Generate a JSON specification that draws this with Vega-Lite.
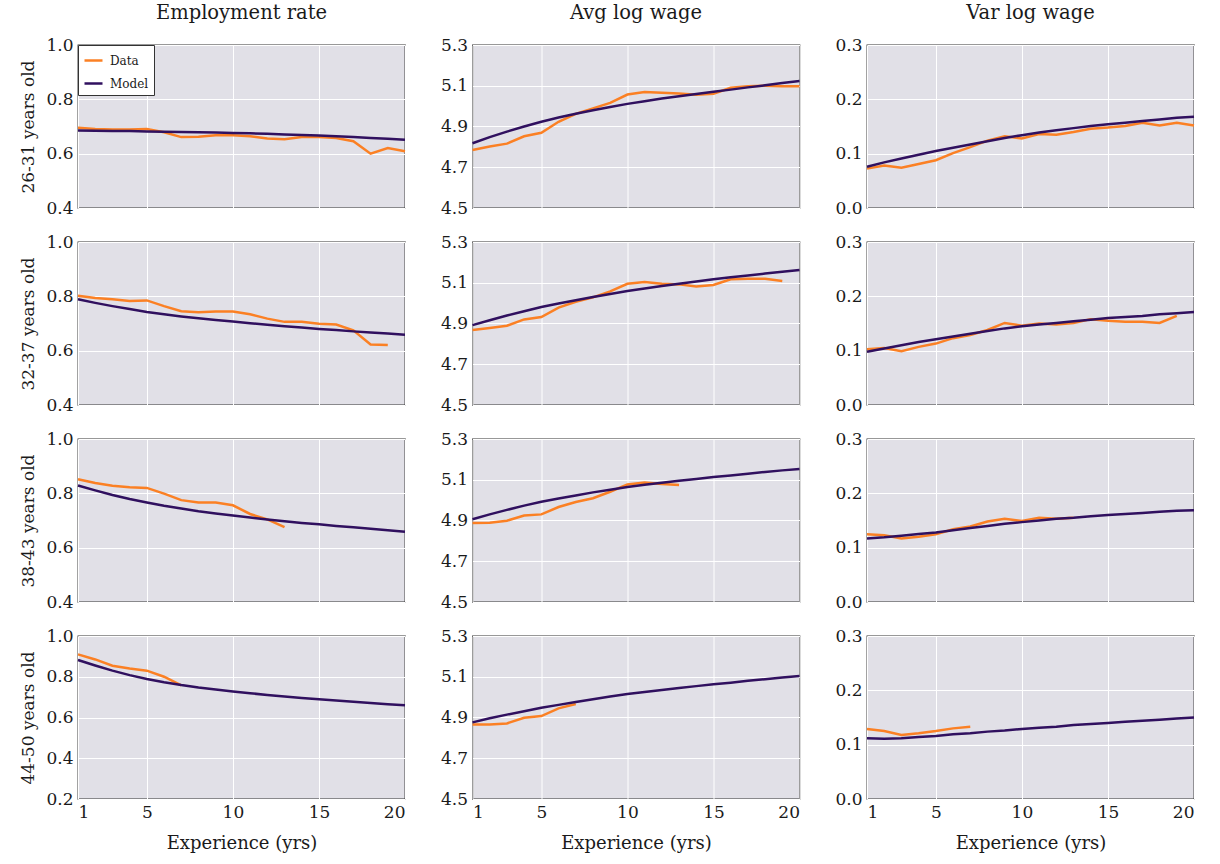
{
  "$schema": "https://vega.github.io/schema/vega-lite/v6.json",
  "background": "white",
  "padding": {"left": 19, "top": 1, "right": 5, "bottom": 5},
  "data": {"values": [
    {"age":"26-31","stat":"emp","exp":1,"Data":0.695,"Model":0.685},
    {"age":"26-31","stat":"emp","exp":2,"Data":0.691,"Model":0.684},
    {"age":"26-31","stat":"emp","exp":3,"Data":0.689,"Model":0.683},
    {"age":"26-31","stat":"emp","exp":4,"Data":0.689,"Model":0.683},
    {"age":"26-31","stat":"emp","exp":5,"Data":0.691,"Model":0.682},
    {"age":"26-31","stat":"emp","exp":6,"Data":0.679,"Model":0.681},
    {"age":"26-31","stat":"emp","exp":7,"Data":0.661,"Model":0.680},
    {"age":"26-31","stat":"emp","exp":8,"Data":0.662,"Model":0.679},
    {"age":"26-31","stat":"emp","exp":9,"Data":0.668,"Model":0.678},
    {"age":"26-31","stat":"emp","exp":10,"Data":0.668,"Model":0.676},
    {"age":"26-31","stat":"emp","exp":11,"Data":0.664,"Model":0.675},
    {"age":"26-31","stat":"emp","exp":12,"Data":0.656,"Model":0.673},
    {"age":"26-31","stat":"emp","exp":13,"Data":0.653,"Model":0.671},
    {"age":"26-31","stat":"emp","exp":14,"Data":0.661,"Model":0.669},
    {"age":"26-31","stat":"emp","exp":15,"Data":0.661,"Model":0.667},
    {"age":"26-31","stat":"emp","exp":16,"Data":0.658,"Model":0.664},
    {"age":"26-31","stat":"emp","exp":17,"Data":0.646,"Model":0.661},
    {"age":"26-31","stat":"emp","exp":18,"Data":0.600,"Model":0.658},
    {"age":"26-31","stat":"emp","exp":19,"Data":0.621,"Model":0.655},
    {"age":"26-31","stat":"emp","exp":20,"Data":0.609,"Model":0.651},
    {"age":"26-31","stat":"avg","exp":1,"Data":4.785,"Model":4.818},
    {"age":"26-31","stat":"avg","exp":2,"Data":4.802,"Model":4.848},
    {"age":"26-31","stat":"avg","exp":3,"Data":4.816,"Model":4.875},
    {"age":"26-31","stat":"avg","exp":4,"Data":4.852,"Model":4.900},
    {"age":"26-31","stat":"avg","exp":5,"Data":4.869,"Model":4.923},
    {"age":"26-31","stat":"avg","exp":6,"Data":4.923,"Model":4.944},
    {"age":"26-31","stat":"avg","exp":7,"Data":4.962,"Model":4.963},
    {"age":"26-31","stat":"avg","exp":8,"Data":4.989,"Model":4.980},
    {"age":"26-31","stat":"avg","exp":9,"Data":5.016,"Model":4.996},
    {"age":"26-31","stat":"avg","exp":10,"Data":5.057,"Model":5.011},
    {"age":"26-31","stat":"avg","exp":11,"Data":5.069,"Model":5.024},
    {"age":"26-31","stat":"avg","exp":12,"Data":5.066,"Model":5.037},
    {"age":"26-31","stat":"avg","exp":13,"Data":5.062,"Model":5.048},
    {"age":"26-31","stat":"avg","exp":14,"Data":5.056,"Model":5.059},
    {"age":"26-31","stat":"avg","exp":15,"Data":5.061,"Model":5.070},
    {"age":"26-31","stat":"avg","exp":16,"Data":5.090,"Model":5.081},
    {"age":"26-31","stat":"avg","exp":17,"Data":5.098,"Model":5.092},
    {"age":"26-31","stat":"avg","exp":18,"Data":5.100,"Model":5.102},
    {"age":"26-31","stat":"avg","exp":19,"Data":5.098,"Model":5.113},
    {"age":"26-31","stat":"avg","exp":20,"Data":5.098,"Model":5.123},
    {"age":"26-31","stat":"var","exp":1,"Data":0.0725,"Model":0.076},
    {"age":"26-31","stat":"var","exp":2,"Data":0.078,"Model":0.084},
    {"age":"26-31","stat":"var","exp":3,"Data":0.074,"Model":0.091},
    {"age":"26-31","stat":"var","exp":4,"Data":0.081,"Model":0.098},
    {"age":"26-31","stat":"var","exp":5,"Data":0.088,"Model":0.105},
    {"age":"26-31","stat":"var","exp":6,"Data":0.101,"Model":0.111},
    {"age":"26-31","stat":"var","exp":7,"Data":0.112,"Model":0.117},
    {"age":"26-31","stat":"var","exp":8,"Data":0.124,"Model":0.123},
    {"age":"26-31","stat":"var","exp":9,"Data":0.132,"Model":0.129},
    {"age":"26-31","stat":"var","exp":10,"Data":0.128,"Model":0.134},
    {"age":"26-31","stat":"var","exp":11,"Data":0.136,"Model":0.139},
    {"age":"26-31","stat":"var","exp":12,"Data":0.135,"Model":0.143},
    {"age":"26-31","stat":"var","exp":13,"Data":0.140,"Model":0.147},
    {"age":"26-31","stat":"var","exp":14,"Data":0.146,"Model":0.151},
    {"age":"26-31","stat":"var","exp":15,"Data":0.148,"Model":0.154},
    {"age":"26-31","stat":"var","exp":16,"Data":0.151,"Model":0.157},
    {"age":"26-31","stat":"var","exp":17,"Data":0.157,"Model":0.160},
    {"age":"26-31","stat":"var","exp":18,"Data":0.152,"Model":0.163},
    {"age":"26-31","stat":"var","exp":19,"Data":0.157,"Model":0.166},
    {"age":"26-31","stat":"var","exp":20,"Data":0.152,"Model":0.168},
    {"age":"32-37","stat":"emp","exp":1,"Data":0.802,"Model":0.789},
    {"age":"32-37","stat":"emp","exp":2,"Data":0.794,"Model":0.776},
    {"age":"32-37","stat":"emp","exp":3,"Data":0.789,"Model":0.764},
    {"age":"32-37","stat":"emp","exp":4,"Data":0.783,"Model":0.753},
    {"age":"32-37","stat":"emp","exp":5,"Data":0.785,"Model":0.742},
    {"age":"32-37","stat":"emp","exp":6,"Data":0.764,"Model":0.734},
    {"age":"32-37","stat":"emp","exp":7,"Data":0.745,"Model":0.726},
    {"age":"32-37","stat":"emp","exp":8,"Data":0.741,"Model":0.719},
    {"age":"32-37","stat":"emp","exp":9,"Data":0.744,"Model":0.713},
    {"age":"32-37","stat":"emp","exp":10,"Data":0.744,"Model":0.707},
    {"age":"32-37","stat":"emp","exp":11,"Data":0.734,"Model":0.701},
    {"age":"32-37","stat":"emp","exp":12,"Data":0.718,"Model":0.695},
    {"age":"32-37","stat":"emp","exp":13,"Data":0.706,"Model":0.690},
    {"age":"32-37","stat":"emp","exp":14,"Data":0.706,"Model":0.685},
    {"age":"32-37","stat":"emp","exp":15,"Data":0.699,"Model":0.680},
    {"age":"32-37","stat":"emp","exp":16,"Data":0.696,"Model":0.676},
    {"age":"32-37","stat":"emp","exp":17,"Data":0.675,"Model":0.671},
    {"age":"32-37","stat":"emp","exp":18,"Data":0.623,"Model":0.667},
    {"age":"32-37","stat":"emp","exp":19,"Data":0.621,"Model":0.663},
    {"age":"32-37","stat":"emp","exp":20,"Model":0.659},
    {"age":"32-37","stat":"avg","exp":1,"Data":4.868,"Model":4.892},
    {"age":"32-37","stat":"avg","exp":2,"Data":4.878,"Model":4.916},
    {"age":"32-37","stat":"avg","exp":3,"Data":4.889,"Model":4.939},
    {"age":"32-37","stat":"avg","exp":4,"Data":4.920,"Model":4.960},
    {"age":"32-37","stat":"avg","exp":5,"Data":4.932,"Model":4.981},
    {"age":"32-37","stat":"avg","exp":6,"Data":4.978,"Model":4.998},
    {"age":"32-37","stat":"avg","exp":7,"Data":5.007,"Model":5.014},
    {"age":"32-37","stat":"avg","exp":8,"Data":5.028,"Model":5.030},
    {"age":"32-37","stat":"avg","exp":9,"Data":5.058,"Model":5.045},
    {"age":"32-37","stat":"avg","exp":10,"Data":5.095,"Model":5.059},
    {"age":"32-37","stat":"avg","exp":11,"Data":5.104,"Model":5.072},
    {"age":"32-37","stat":"avg","exp":12,"Data":5.095,"Model":5.084},
    {"age":"32-37","stat":"avg","exp":13,"Data":5.092,"Model":5.095},
    {"age":"32-37","stat":"avg","exp":14,"Data":5.082,"Model":5.106},
    {"age":"32-37","stat":"avg","exp":15,"Data":5.089,"Model":5.117},
    {"age":"32-37","stat":"avg","exp":16,"Data":5.117,"Model":5.127},
    {"age":"32-37","stat":"avg","exp":17,"Data":5.120,"Model":5.136},
    {"age":"32-37","stat":"avg","exp":18,"Data":5.120,"Model":5.145},
    {"age":"32-37","stat":"avg","exp":19,"Data":5.109,"Model":5.154},
    {"age":"32-37","stat":"avg","exp":20,"Model":5.163},
    {"age":"32-37","stat":"var","exp":1,"Data":0.1025,"Model":0.098},
    {"age":"32-37","stat":"var","exp":2,"Data":0.105,"Model":0.104},
    {"age":"32-37","stat":"var","exp":3,"Data":0.099,"Model":0.110},
    {"age":"32-37","stat":"var","exp":4,"Data":0.107,"Model":0.116},
    {"age":"32-37","stat":"var","exp":5,"Data":0.113,"Model":0.121},
    {"age":"32-37","stat":"var","exp":6,"Data":0.123,"Model":0.126},
    {"age":"32-37","stat":"var","exp":7,"Data":0.129,"Model":0.131},
    {"age":"32-37","stat":"var","exp":8,"Data":0.138,"Model":0.136},
    {"age":"32-37","stat":"var","exp":9,"Data":0.151,"Model":0.141},
    {"age":"32-37","stat":"var","exp":10,"Data":0.146,"Model":0.145},
    {"age":"32-37","stat":"var","exp":11,"Data":0.150,"Model":0.148},
    {"age":"32-37","stat":"var","exp":12,"Data":0.148,"Model":0.151},
    {"age":"32-37","stat":"var","exp":13,"Data":0.151,"Model":0.154},
    {"age":"32-37","stat":"var","exp":14,"Data":0.158,"Model":0.157},
    {"age":"32-37","stat":"var","exp":15,"Data":0.155,"Model":0.160},
    {"age":"32-37","stat":"var","exp":16,"Data":0.153,"Model":0.162},
    {"age":"32-37","stat":"var","exp":17,"Data":0.153,"Model":0.164},
    {"age":"32-37","stat":"var","exp":18,"Data":0.151,"Model":0.167},
    {"age":"32-37","stat":"var","exp":19,"Data":0.164,"Model":0.169},
    {"age":"32-37","stat":"var","exp":20,"Model":0.171},
    {"age":"38-43","stat":"emp","exp":1,"Data":0.852,"Model":0.829},
    {"age":"38-43","stat":"emp","exp":2,"Data":0.838,"Model":0.811},
    {"age":"38-43","stat":"emp","exp":3,"Data":0.828,"Model":0.794},
    {"age":"38-43","stat":"emp","exp":4,"Data":0.822,"Model":0.779},
    {"age":"38-43","stat":"emp","exp":5,"Data":0.820,"Model":0.766},
    {"age":"38-43","stat":"emp","exp":6,"Data":0.799,"Model":0.754},
    {"age":"38-43","stat":"emp","exp":7,"Data":0.775,"Model":0.744},
    {"age":"38-43","stat":"emp","exp":8,"Data":0.766,"Model":0.734},
    {"age":"38-43","stat":"emp","exp":9,"Data":0.766,"Model":0.726},
    {"age":"38-43","stat":"emp","exp":10,"Data":0.756,"Model":0.718},
    {"age":"38-43","stat":"emp","exp":11,"Data":0.724,"Model":0.711},
    {"age":"38-43","stat":"emp","exp":12,"Data":0.704,"Model":0.704},
    {"age":"38-43","stat":"emp","exp":13,"Data":0.676,"Model":0.697},
    {"age":"38-43","stat":"emp","exp":14,"Model":0.691},
    {"age":"38-43","stat":"emp","exp":15,"Model":0.686},
    {"age":"38-43","stat":"emp","exp":16,"Model":0.680},
    {"age":"38-43","stat":"emp","exp":17,"Model":0.675},
    {"age":"38-43","stat":"emp","exp":18,"Model":0.670},
    {"age":"38-43","stat":"emp","exp":19,"Model":0.664},
    {"age":"38-43","stat":"emp","exp":20,"Model":0.659},
    {"age":"38-43","stat":"avg","exp":1,"Data":4.888,"Model":4.906},
    {"age":"38-43","stat":"avg","exp":2,"Data":4.889,"Model":4.930},
    {"age":"38-43","stat":"avg","exp":3,"Data":4.899,"Model":4.952},
    {"age":"38-43","stat":"avg","exp":4,"Data":4.924,"Model":4.973},
    {"age":"38-43","stat":"avg","exp":5,"Data":4.930,"Model":4.992},
    {"age":"38-43","stat":"avg","exp":6,"Data":4.966,"Model":5.008},
    {"age":"38-43","stat":"avg","exp":7,"Data":4.991,"Model":5.023},
    {"age":"38-43","stat":"avg","exp":8,"Data":5.009,"Model":5.038},
    {"age":"38-43","stat":"avg","exp":9,"Data":5.041,"Model":5.051},
    {"age":"38-43","stat":"avg","exp":10,"Data":5.077,"Model":5.064},
    {"age":"38-43","stat":"avg","exp":11,"Data":5.086,"Model":5.075},
    {"age":"38-43","stat":"avg","exp":12,"Data":5.079,"Model":5.085},
    {"age":"38-43","stat":"avg","exp":13,"Data":5.074,"Model":5.095},
    {"age":"38-43","stat":"avg","exp":14,"Model":5.104},
    {"age":"38-43","stat":"avg","exp":15,"Model":5.113},
    {"age":"38-43","stat":"avg","exp":16,"Model":5.121},
    {"age":"38-43","stat":"avg","exp":17,"Model":5.130},
    {"age":"38-43","stat":"avg","exp":18,"Model":5.138},
    {"age":"38-43","stat":"avg","exp":19,"Model":5.146},
    {"age":"38-43","stat":"avg","exp":20,"Model":5.153},
    {"age":"38-43","stat":"var","exp":1,"Data":0.1245,"Model":0.117},
    {"age":"38-43","stat":"var","exp":2,"Data":0.123,"Model":0.119},
    {"age":"38-43","stat":"var","exp":3,"Data":0.117,"Model":0.122},
    {"age":"38-43","stat":"var","exp":4,"Data":0.120,"Model":0.125},
    {"age":"38-43","stat":"var","exp":5,"Data":0.1245,"Model":0.128},
    {"age":"38-43","stat":"var","exp":6,"Data":0.134,"Model":0.132},
    {"age":"38-43","stat":"var","exp":7,"Data":0.139,"Model":0.136},
    {"age":"38-43","stat":"var","exp":8,"Data":0.148,"Model":0.140},
    {"age":"38-43","stat":"var","exp":9,"Data":0.153,"Model":0.144},
    {"age":"38-43","stat":"var","exp":10,"Data":0.149,"Model":0.147},
    {"age":"38-43","stat":"var","exp":11,"Data":0.155,"Model":0.150},
    {"age":"38-43","stat":"var","exp":12,"Data":0.153,"Model":0.153},
    {"age":"38-43","stat":"var","exp":13,"Data":0.155,"Model":0.155},
    {"age":"38-43","stat":"var","exp":14,"Model":0.158},
    {"age":"38-43","stat":"var","exp":15,"Model":0.160},
    {"age":"38-43","stat":"var","exp":16,"Model":0.162},
    {"age":"38-43","stat":"var","exp":17,"Model":0.164},
    {"age":"38-43","stat":"var","exp":18,"Model":0.166},
    {"age":"38-43","stat":"var","exp":19,"Model":0.168},
    {"age":"38-43","stat":"var","exp":20,"Model":0.169},
    {"age":"44-50","stat":"emp","exp":1,"Data":0.910,"Model":0.882},
    {"age":"44-50","stat":"emp","exp":2,"Data":0.885,"Model":0.855},
    {"age":"44-50","stat":"emp","exp":3,"Data":0.854,"Model":0.830},
    {"age":"44-50","stat":"emp","exp":4,"Data":0.840,"Model":0.808},
    {"age":"44-50","stat":"emp","exp":5,"Data":0.830,"Model":0.789},
    {"age":"44-50","stat":"emp","exp":6,"Data":0.800,"Model":0.773},
    {"age":"44-50","stat":"emp","exp":7,"Data":0.758,"Model":0.759},
    {"age":"44-50","stat":"emp","exp":8,"Model":0.747},
    {"age":"44-50","stat":"emp","exp":9,"Model":0.737},
    {"age":"44-50","stat":"emp","exp":10,"Model":0.728},
    {"age":"44-50","stat":"emp","exp":11,"Model":0.719},
    {"age":"44-50","stat":"emp","exp":12,"Model":0.711},
    {"age":"44-50","stat":"emp","exp":13,"Model":0.703},
    {"age":"44-50","stat":"emp","exp":14,"Model":0.696},
    {"age":"44-50","stat":"emp","exp":15,"Model":0.689},
    {"age":"44-50","stat":"emp","exp":16,"Model":0.683},
    {"age":"44-50","stat":"emp","exp":17,"Model":0.677},
    {"age":"44-50","stat":"emp","exp":18,"Model":0.671},
    {"age":"44-50","stat":"emp","exp":19,"Model":0.665},
    {"age":"44-50","stat":"emp","exp":20,"Model":0.660},
    {"age":"44-50","stat":"avg","exp":1,"Data":4.866,"Model":4.876},
    {"age":"44-50","stat":"avg","exp":2,"Data":4.866,"Model":4.896},
    {"age":"44-50","stat":"avg","exp":3,"Data":4.871,"Model":4.914},
    {"age":"44-50","stat":"avg","exp":4,"Data":4.899,"Model":4.931},
    {"age":"44-50","stat":"avg","exp":5,"Data":4.907,"Model":4.948},
    {"age":"44-50","stat":"avg","exp":6,"Data":4.945,"Model":4.962},
    {"age":"44-50","stat":"avg","exp":7,"Data":4.966,"Model":4.976},
    {"age":"44-50","stat":"avg","exp":8,"Model":4.990},
    {"age":"44-50","stat":"avg","exp":9,"Model":5.003},
    {"age":"44-50","stat":"avg","exp":10,"Model":5.015},
    {"age":"44-50","stat":"avg","exp":11,"Model":5.025},
    {"age":"44-50","stat":"avg","exp":12,"Model":5.035},
    {"age":"44-50","stat":"avg","exp":13,"Model":5.045},
    {"age":"44-50","stat":"avg","exp":14,"Model":5.054},
    {"age":"44-50","stat":"avg","exp":15,"Model":5.063},
    {"age":"44-50","stat":"avg","exp":16,"Model":5.071},
    {"age":"44-50","stat":"avg","exp":17,"Model":5.080},
    {"age":"44-50","stat":"avg","exp":18,"Model":5.088},
    {"age":"44-50","stat":"avg","exp":19,"Model":5.096},
    {"age":"44-50","stat":"avg","exp":20,"Model":5.104},
    {"age":"44-50","stat":"var","exp":1,"Data":0.129,"Model":0.112},
    {"age":"44-50","stat":"var","exp":2,"Data":0.125,"Model":0.111},
    {"age":"44-50","stat":"var","exp":3,"Data":0.118,"Model":0.112},
    {"age":"44-50","stat":"var","exp":4,"Data":0.121,"Model":0.114},
    {"age":"44-50","stat":"var","exp":5,"Data":0.125,"Model":0.116},
    {"age":"44-50","stat":"var","exp":6,"Data":0.130,"Model":0.119},
    {"age":"44-50","stat":"var","exp":7,"Data":0.133,"Model":0.121},
    {"age":"44-50","stat":"var","exp":8,"Model":0.124},
    {"age":"44-50","stat":"var","exp":9,"Model":0.126},
    {"age":"44-50","stat":"var","exp":10,"Model":0.129},
    {"age":"44-50","stat":"var","exp":11,"Model":0.131},
    {"age":"44-50","stat":"var","exp":12,"Model":0.133},
    {"age":"44-50","stat":"var","exp":13,"Model":0.136},
    {"age":"44-50","stat":"var","exp":14,"Model":0.138},
    {"age":"44-50","stat":"var","exp":15,"Model":0.140},
    {"age":"44-50","stat":"var","exp":16,"Model":0.142},
    {"age":"44-50","stat":"var","exp":17,"Model":0.144},
    {"age":"44-50","stat":"var","exp":18,"Model":0.146},
    {"age":"44-50","stat":"var","exp":19,"Model":0.148},
    {"age":"44-50","stat":"var","exp":20,"Model":0.150}
  ]},
  "config": {
    "font": "DejaVu Serif",
    "view": {"fill": "#e1e0e7", "stroke": "#333333", "strokeWidth": 1.3},
    "axis": {"grid": true, "gridColor": "#ffffff", "gridWidth": 1, "gridOpacity": 1, "domain": false, "ticks": false,
             "labelFont": "DejaVu Serif", "labelFontSize": 17, "labelColor": "#1a1a1a", "labelPadding": 5,
             "titleFont": "DejaVu Serif", "titleFontSize": 17, "titleFontWeight": "normal", "titleColor": "#1a1a1a"},
    "axisY": {"titlePadding": 8},
    "axisX": {"titlePadding": 14, "titleFontSize": 18},
    "title": {"font": "DejaVu Serif", "fontSize": 19.5, "fontWeight": "normal", "color": "#1a1a1a", "offset": 13},
    "line": {"strokeWidth": 2.5, "clip": true}
  },
  "columns": 3,
  "spacing": {"row": 34, "column": 67.5},
  "bounds": "flush",
  "resolve": {"scale": {"color": "independent"}, "legend": {"color": "independent"}},
  "concat": [
      {"width": 327, "height": 163, "title": "Employment rate",
       "transform": [{"filter": "datum.age==='26-31' && datum.stat==='emp'"}, {"fold": ["Data", "Model"], "as": ["series", "value"]}, {"filter": "isValid(datum.value)"}],
       "mark": {"type": "line"},
       "encoding": {
         "x": {"field": "exp", "type": "quantitative", "scale": {"domain": [1, 20], "nice": false, "zero": false}, "axis": {"values": [1, 5, 10, 15, 20], "labels": false, "title": null}},
         "y": {"field": "value", "type": "quantitative", "scale": {"domain": [0.4, 1.0], "nice": false, "zero": false}, "axis": {"values": [0.4, 0.6, 0.8, 1.0], "format": ".1f", "title": "26-31 years old"}},
         "color": {"field": "series", "type": "nominal", "scale": {"domain": ["Data", "Model"], "range": ["#fb8024", "#30105f"]},
                   "legend": {"orient": "top-left", "offset": 0, "title": null, "padding": 5, "fillColor": "white", "strokeColor": "#333333", "labelFont": "DejaVu Serif", "labelFontSize": 12, "labelColor": "#1a1a1a", "symbolType": "stroke", "symbolStrokeWidth": 2.6, "symbolSize": 324, "rowPadding": 6, "labelOffset": 6, "cornerRadius": 0}}
       }},
      {"width": 327, "height": 163, "title": "Avg log wage",
       "transform": [{"filter": "datum.age==='26-31' && datum.stat==='avg'"}, {"fold": ["Data", "Model"], "as": ["series", "value"]}, {"filter": "isValid(datum.value)"}],
       "mark": {"type": "line"},
       "encoding": {
         "x": {"field": "exp", "type": "quantitative", "scale": {"domain": [1, 20], "nice": false, "zero": false}, "axis": {"values": [1, 5, 10, 15, 20], "labels": false, "title": null}},
         "y": {"field": "value", "type": "quantitative", "scale": {"domain": [4.5, 5.3], "nice": false, "zero": false}, "axis": {"values": [4.5, 4.7, 4.9, 5.1, 5.3], "format": ".1f", "title": null}},
         "color": {"field": "series", "type": "nominal", "scale": {"domain": ["Data", "Model"], "range": ["#fb8024", "#30105f"]}, "legend": null}
       }},
      {"width": 327, "height": 163, "title": "Var log wage",
       "transform": [{"filter": "datum.age==='26-31' && datum.stat==='var'"}, {"fold": ["Data", "Model"], "as": ["series", "value"]}, {"filter": "isValid(datum.value)"}],
       "mark": {"type": "line"},
       "encoding": {
         "x": {"field": "exp", "type": "quantitative", "scale": {"domain": [1, 20], "nice": false, "zero": false}, "axis": {"values": [1, 5, 10, 15, 20], "labels": false, "title": null}},
         "y": {"field": "value", "type": "quantitative", "scale": {"domain": [0, 0.3], "nice": false, "zero": false}, "axis": {"values": [0, 0.1, 0.2, 0.3], "format": ".1f", "title": null}},
         "color": {"field": "series", "type": "nominal", "scale": {"domain": ["Data", "Model"], "range": ["#fb8024", "#30105f"]}, "legend": null}
       }},
      {"width": 327, "height": 163,
       "transform": [{"filter": "datum.age==='32-37' && datum.stat==='emp'"}, {"fold": ["Data", "Model"], "as": ["series", "value"]}, {"filter": "isValid(datum.value)"}],
       "mark": {"type": "line"},
       "encoding": {
         "x": {"field": "exp", "type": "quantitative", "scale": {"domain": [1, 20], "nice": false, "zero": false}, "axis": {"values": [1, 5, 10, 15, 20], "labels": false, "title": null}},
         "y": {"field": "value", "type": "quantitative", "scale": {"domain": [0.4, 1.0], "nice": false, "zero": false}, "axis": {"values": [0.4, 0.6, 0.8, 1.0], "format": ".1f", "title": "32-37 years old"}},
         "color": {"field": "series", "type": "nominal", "scale": {"domain": ["Data", "Model"], "range": ["#fb8024", "#30105f"]}, "legend": null}
       }},
      {"width": 327, "height": 163,
       "transform": [{"filter": "datum.age==='32-37' && datum.stat==='avg'"}, {"fold": ["Data", "Model"], "as": ["series", "value"]}, {"filter": "isValid(datum.value)"}],
       "mark": {"type": "line"},
       "encoding": {
         "x": {"field": "exp", "type": "quantitative", "scale": {"domain": [1, 20], "nice": false, "zero": false}, "axis": {"values": [1, 5, 10, 15, 20], "labels": false, "title": null}},
         "y": {"field": "value", "type": "quantitative", "scale": {"domain": [4.5, 5.3], "nice": false, "zero": false}, "axis": {"values": [4.5, 4.7, 4.9, 5.1, 5.3], "format": ".1f", "title": null}},
         "color": {"field": "series", "type": "nominal", "scale": {"domain": ["Data", "Model"], "range": ["#fb8024", "#30105f"]}, "legend": null}
       }},
      {"width": 327, "height": 163,
       "transform": [{"filter": "datum.age==='32-37' && datum.stat==='var'"}, {"fold": ["Data", "Model"], "as": ["series", "value"]}, {"filter": "isValid(datum.value)"}],
       "mark": {"type": "line"},
       "encoding": {
         "x": {"field": "exp", "type": "quantitative", "scale": {"domain": [1, 20], "nice": false, "zero": false}, "axis": {"values": [1, 5, 10, 15, 20], "labels": false, "title": null}},
         "y": {"field": "value", "type": "quantitative", "scale": {"domain": [0, 0.3], "nice": false, "zero": false}, "axis": {"values": [0, 0.1, 0.2, 0.3], "format": ".1f", "title": null}},
         "color": {"field": "series", "type": "nominal", "scale": {"domain": ["Data", "Model"], "range": ["#fb8024", "#30105f"]}, "legend": null}
       }},
      {"width": 327, "height": 163,
       "transform": [{"filter": "datum.age==='38-43' && datum.stat==='emp'"}, {"fold": ["Data", "Model"], "as": ["series", "value"]}, {"filter": "isValid(datum.value)"}],
       "mark": {"type": "line"},
       "encoding": {
         "x": {"field": "exp", "type": "quantitative", "scale": {"domain": [1, 20], "nice": false, "zero": false}, "axis": {"values": [1, 5, 10, 15, 20], "labels": false, "title": null}},
         "y": {"field": "value", "type": "quantitative", "scale": {"domain": [0.4, 1.0], "nice": false, "zero": false}, "axis": {"values": [0.4, 0.6, 0.8, 1.0], "format": ".1f", "title": "38-43 years old"}},
         "color": {"field": "series", "type": "nominal", "scale": {"domain": ["Data", "Model"], "range": ["#fb8024", "#30105f"]}, "legend": null}
       }},
      {"width": 327, "height": 163,
       "transform": [{"filter": "datum.age==='38-43' && datum.stat==='avg'"}, {"fold": ["Data", "Model"], "as": ["series", "value"]}, {"filter": "isValid(datum.value)"}],
       "mark": {"type": "line"},
       "encoding": {
         "x": {"field": "exp", "type": "quantitative", "scale": {"domain": [1, 20], "nice": false, "zero": false}, "axis": {"values": [1, 5, 10, 15, 20], "labels": false, "title": null}},
         "y": {"field": "value", "type": "quantitative", "scale": {"domain": [4.5, 5.3], "nice": false, "zero": false}, "axis": {"values": [4.5, 4.7, 4.9, 5.1, 5.3], "format": ".1f", "title": null}},
         "color": {"field": "series", "type": "nominal", "scale": {"domain": ["Data", "Model"], "range": ["#fb8024", "#30105f"]}, "legend": null}
       }},
      {"width": 327, "height": 163,
       "transform": [{"filter": "datum.age==='38-43' && datum.stat==='var'"}, {"fold": ["Data", "Model"], "as": ["series", "value"]}, {"filter": "isValid(datum.value)"}],
       "mark": {"type": "line"},
       "encoding": {
         "x": {"field": "exp", "type": "quantitative", "scale": {"domain": [1, 20], "nice": false, "zero": false}, "axis": {"values": [1, 5, 10, 15, 20], "labels": false, "title": null}},
         "y": {"field": "value", "type": "quantitative", "scale": {"domain": [0, 0.3], "nice": false, "zero": false}, "axis": {"values": [0, 0.1, 0.2, 0.3], "format": ".1f", "title": null}},
         "color": {"field": "series", "type": "nominal", "scale": {"domain": ["Data", "Model"], "range": ["#fb8024", "#30105f"]}, "legend": null}
       }},
      {"width": 327, "height": 163,
       "transform": [{"filter": "datum.age==='44-50' && datum.stat==='emp'"}, {"fold": ["Data", "Model"], "as": ["series", "value"]}, {"filter": "isValid(datum.value)"}],
       "mark": {"type": "line"},
       "encoding": {
         "x": {"field": "exp", "type": "quantitative", "scale": {"domain": [1, 20], "nice": false, "zero": false}, "axis": {"values": [1, 5, 10, 15, 20], "title": "Experience (yrs)"}},
         "y": {"field": "value", "type": "quantitative", "scale": {"domain": [0.2, 1.0], "nice": false, "zero": false}, "axis": {"values": [0.2, 0.4, 0.6, 0.8, 1.0], "format": ".1f", "title": "44-50 years old"}},
         "color": {"field": "series", "type": "nominal", "scale": {"domain": ["Data", "Model"], "range": ["#fb8024", "#30105f"]}, "legend": null}
       }},
      {"width": 327, "height": 163,
       "transform": [{"filter": "datum.age==='44-50' && datum.stat==='avg'"}, {"fold": ["Data", "Model"], "as": ["series", "value"]}, {"filter": "isValid(datum.value)"}],
       "mark": {"type": "line"},
       "encoding": {
         "x": {"field": "exp", "type": "quantitative", "scale": {"domain": [1, 20], "nice": false, "zero": false}, "axis": {"values": [1, 5, 10, 15, 20], "title": "Experience (yrs)"}},
         "y": {"field": "value", "type": "quantitative", "scale": {"domain": [4.5, 5.3], "nice": false, "zero": false}, "axis": {"values": [4.5, 4.7, 4.9, 5.1, 5.3], "format": ".1f", "title": null}},
         "color": {"field": "series", "type": "nominal", "scale": {"domain": ["Data", "Model"], "range": ["#fb8024", "#30105f"]}, "legend": null}
       }},
      {"width": 327, "height": 163,
       "transform": [{"filter": "datum.age==='44-50' && datum.stat==='var'"}, {"fold": ["Data", "Model"], "as": ["series", "value"]}, {"filter": "isValid(datum.value)"}],
       "mark": {"type": "line"},
       "encoding": {
         "x": {"field": "exp", "type": "quantitative", "scale": {"domain": [1, 20], "nice": false, "zero": false}, "axis": {"values": [1, 5, 10, 15, 20], "title": "Experience (yrs)"}},
         "y": {"field": "value", "type": "quantitative", "scale": {"domain": [0, 0.3], "nice": false, "zero": false}, "axis": {"values": [0, 0.1, 0.2, 0.3], "format": ".1f", "title": null}},
         "color": {"field": "series", "type": "nominal", "scale": {"domain": ["Data", "Model"], "range": ["#fb8024", "#30105f"]}, "legend": null}
       }}
  ]
}
